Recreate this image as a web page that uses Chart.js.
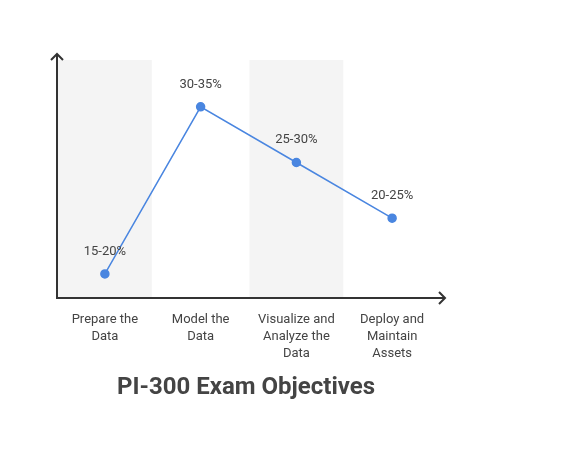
<!DOCTYPE html>
<html>
<head>
<meta charset="utf-8">
<script src="https://cdn.jsdelivr.net/npm/chart.js@4/dist/chart.umd.min.js"></script>
<style>
  html, body { margin: 0; padding: 0; background: #fff; }
  #wrap { width: 578px; height: 460px; }
</style>
</head>
<body>
<div id="wrap"><canvas id="chart"></canvas></div>
<script>
// data (range midpoints)
var categories = [["Prepare the", "Data"], ["Model the", "Data"], ["Visualize and", "Analyze the", "Data"], ["Deploy and", "Maintain", "Assets"]];
var pointLabels = ["15-20%", "30-35%", "25-30%", "20-25%"];
var weights = [17.5, 32.5, 27.5, 22.5];
var titleText = "PI-300 Exam Objectives";

var textColor = "#444444";
var lineColor = "#4a86e0";

// shaded bands, axes with arrows, labels
var decor = {
  id: "decor",
  beforeDatasetsDraw: function (chart) {
    var ctx = chart.ctx, a = chart.chartArea, x = chart.scales.x;
    var w = (a.right - a.left) / categories.length;
    ctx.save();
    ctx.fillStyle = "#f4f4f4";
    categories.forEach(function (c, i) {
      if (i % 2 === 0) {
        var cx = x.getPixelForValue(i);
        ctx.fillRect(cx - w / 2 + 1, a.top, w - 2, a.bottom - a.top);
      }
    });
    // axes
    ctx.strokeStyle = "#333";
    ctx.lineWidth = 2;
    ctx.beginPath();
    ctx.moveTo(a.left, a.top - 6);
    ctx.lineTo(a.left, a.bottom);
    ctx.lineTo(a.right + 5, a.bottom);
    ctx.stroke();
    ctx.beginPath();
    ctx.moveTo(a.left - 6, a.top);
    ctx.lineTo(a.left, a.top - 6);
    ctx.lineTo(a.left + 6, a.top);
    ctx.moveTo(a.right - 1, a.bottom - 6);
    ctx.lineTo(a.right + 5, a.bottom);
    ctx.lineTo(a.right - 1, a.bottom + 6);
    ctx.stroke();
    ctx.restore();
  },
  afterDatasetsDraw: function (chart) {
    var ctx = chart.ctx, a = chart.chartArea, x = chart.scales.x, y = chart.scales.y;
    ctx.save();
    ctx.fillStyle = textColor;
    ctx.textAlign = "center";
    ctx.font = "13px Roboto, sans-serif";
    ctx.textBaseline = "bottom";
    weights.forEach(function (v, i) {
      ctx.fillText(pointLabels[i], x.getPixelForValue(i), y.getPixelForValue(v) - 16);
    });
    ctx.textBaseline = "middle";
    categories.forEach(function (lines, i) {
      lines.forEach(function (t, j) {
        ctx.fillText(t, x.getPixelForValue(i), a.bottom + 22 + j * 17);
      });
    });
    ctx.font = "bold 24px Roboto, sans-serif";
    ctx.fillText(titleText, 246, 388);
    ctx.restore();
  }
};

new Chart(document.getElementById("chart"), {
  type: "line",
  data: {
    labels: categories.map(function (c) { return c.join(" "); }),
    datasets: [{
      data: weights,
      borderColor: lineColor,
      backgroundColor: lineColor,
      borderWidth: 1.5,
      pointRadius: 4,
      pointHoverRadius: 4,
      tension: 0
    }]
  },
  options: {
    responsive: true,
    maintainAspectRatio: false,
    animation: false,
    layout: { padding: { left: 57, right: 138, top: 60, bottom: 162 } },
    plugins: { legend: { display: false }, tooltip: { enabled: false } },
    scales: {
      x: { display: false, offset: true },
      y: { display: false, min: 15.34, max: 36.7 }
    }
  },
  plugins: [decor]
});
</script>
</body>
</html>
